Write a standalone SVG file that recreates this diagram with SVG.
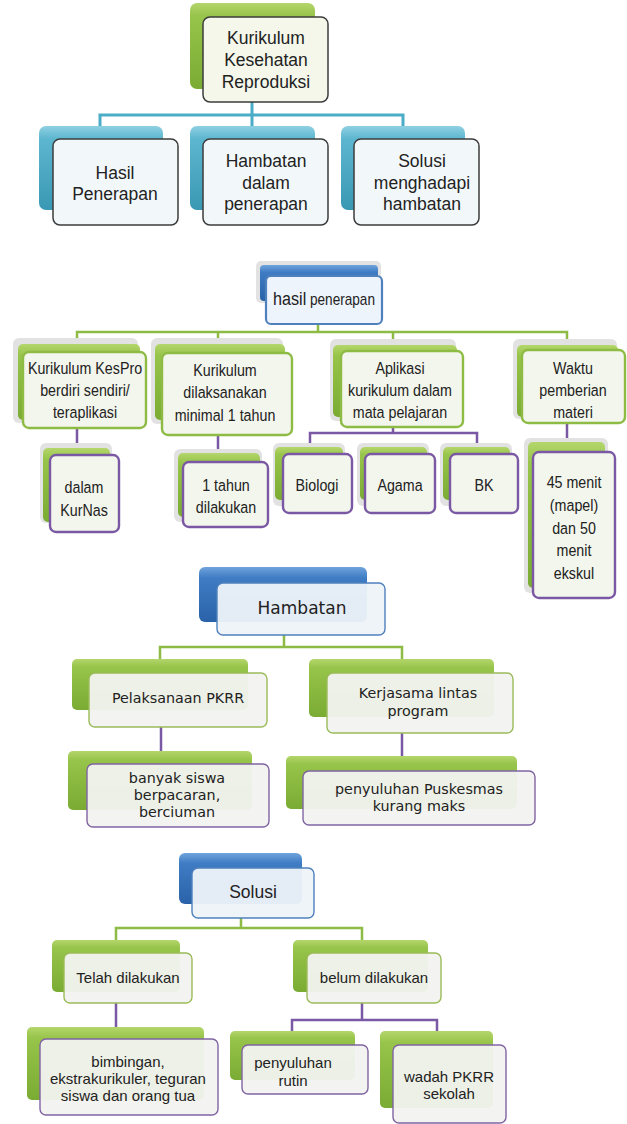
<svg xmlns="http://www.w3.org/2000/svg" width="627" height="1124" viewBox="0 0 627 1124">
<defs>
<linearGradient id="gGreen" x1="0" y1="0" x2="0" y2="1"><stop offset="0" stop-color="#b4d66c"/><stop offset="0.15" stop-color="#97c44a"/><stop offset="1" stop-color="#7aab33"/></linearGradient>
<linearGradient id="gTeal" x1="0" y1="0" x2="0" y2="1"><stop offset="0" stop-color="#8fd0e2"/><stop offset="0.15" stop-color="#5db6cf"/><stop offset="1" stop-color="#3a98b4"/></linearGradient>
<linearGradient id="gBlue" x1="0" y1="0" x2="0" y2="1"><stop offset="0" stop-color="#6fa3dc"/><stop offset="0.2" stop-color="#3f7cc4"/><stop offset="1" stop-color="#2a62a8"/></linearGradient>
<style>
.bg{fill:url(#gGreen)}
.bt{fill:url(#gTeal)}
.bb{fill:url(#gBlue)}
.sh{fill:#e2e2e2}
.f1{fill:#f2f8fa;stroke:#3c3c3c;stroke-width:1.5}
.f1g{fill:#f4f7ea;stroke:#3c3c3c;stroke-width:1.5}
.fg{fill:#f3f6ec;stroke:#8dbb44;stroke-width:2.4}
.fp{fill:#f3f6ec;stroke:#7a58a3;stroke-width:2.4}
.fb{fill:#eef4fb;stroke:#4f81bd;stroke-width:2.2}
.fg2{fill:#f2f3f0;fill-opacity:0.95;stroke:#9bbb59;stroke-width:1.4}
.fp2{fill:#f2f3f0;fill-opacity:0.95;stroke:#8064a2;stroke-width:1.4}
.fb2{fill:#eef3f9;fill-opacity:0.95;stroke:#4f81bd;stroke-width:1.4}
.ct{fill:none;stroke:#4bacc6;stroke-width:3}
.cg{fill:none;stroke:#8dbb44;stroke-width:2.5}
.cp{fill:none;stroke:#7a58a3;stroke-width:2.5}
text{fill:#222;text-anchor:middle}
.t1{font-family:"Liberation Sans",Arial,sans-serif;font-size:17.5px}
.t2{font-family:"Liberation Sans",Arial,sans-serif;font-size:17px}
.t3{font-family:"DejaVu Sans",Verdana,sans-serif;font-size:14.3px}
.t3b{font-family:"DejaVu Sans",Verdana,sans-serif;font-size:17px}
.t4{font-family:"Liberation Sans",Arial,sans-serif;font-size:15px}
</style>
</defs>

<g id="connectors">
<path class="ct" d="M252 102V115M100 126V115H403V126M252 115V126"/>
<path class="cg" d="M318 324V332M77 340V332H567V340M218 332V340M393 332V340"/>
<path class="cp" d="M77 428V448M218 435V453M393 427V433M310 445V433H477V445M567 423V442"/>
<path class="cg" d="M284 635V647M160 659V647H402V659"/>
<path class="cp" d="M161 727V752M402 733V756"/>
<path class="cg" d="M241 918V928M116 940V928H362V940"/>
<path class="cp" d="M116 1003V1027M362 1003V1020M292 1031V1020H437V1031"/>
</g>

<g id="root">
<rect class="bg" x="190" y="3" width="125" height="86" rx="7"/>
<rect class="f1g" x="203" y="17" width="125" height="85" rx="7"/>
<text class="t1"><tspan x="266" y="44">Kurikulum</tspan><tspan x="266" y="66">Kesehatan</tspan><tspan x="266" y="88">Reproduksi</tspan></text>
</g>
<g id="n-hasil">
<rect class="bt" x="39" y="126" width="124" height="84" rx="7"/>
<rect class="f1" x="53" y="139" width="125" height="86" rx="7"/>
<text class="t1"><tspan x="115" y="179">Hasil</tspan><tspan x="115" y="200">Penerapan</tspan></text>
</g>
<g id="n-hambatan">
<rect class="bt" x="190" y="126" width="125" height="84" rx="7"/>
<rect class="f1" x="203" y="139" width="125" height="86" rx="7"/>
<text class="t1"><tspan x="266" y="167">Hambatan</tspan><tspan x="266" y="189">dalam</tspan><tspan x="266" y="210">penerapan</tspan></text>
</g>
<g id="n-solusi">
<rect class="bt" x="341" y="126" width="124" height="84" rx="7"/>
<rect class="f1" x="354" y="139" width="125" height="86" rx="7"/>
<text class="t1"><tspan x="422" y="167">Solusi</tspan><tspan x="422" y="189">menghadapi</tspan><tspan x="422" y="210">hambatan</tspan></text>
</g>

<g id="s2-root">
<rect class="sh" x="256" y="261" width="125" height="42" rx="5"/>
<rect class="bb" x="260" y="265" width="118" height="36" rx="4"/>
<rect class="fb" x="266" y="276" width="116" height="48" rx="5"/>
<text transform="matrix(0.85 0 0 1 324 0)" x="0" y="305" style="font-family:'Liberation Sans',Arial,sans-serif"><tspan font-size="19">hasil</tspan><tspan font-size="16"> penerapan</tspan></text>
</g>
<g id="s2-a">
<rect class="sh" x="13" y="338" width="125" height="85" rx="6"/>
<rect class="bg" x="18" y="344" width="122" height="76" rx="5"/>
<rect class="fg" x="23" y="352" width="123" height="76" rx="6"/>
<text class="t2" transform="matrix(0.84 0 0 1 85 0)"><tspan x="0" y="374">Kurikulum KesPro</tspan><tspan x="0" y="396">berdiri sendiri/</tspan><tspan x="0" y="418">teraplikasi</tspan></text>
</g>
<g id="s2-b">
<rect class="sh" x="151" y="338" width="132" height="86" rx="6"/>
<rect class="bg" x="155" y="344" width="130" height="76" rx="5"/>
<rect class="fg" x="162" y="353" width="130" height="82" rx="6"/>
<text class="t2" transform="matrix(0.84 0 0 1 225 0)"><tspan x="0" y="376">Kurikulum</tspan><tspan x="0" y="398">dilaksanakan</tspan><tspan x="0" y="421">minimal 1 tahun</tspan></text>
</g>
<g id="s2-c">
<rect class="sh" x="330" y="339" width="126" height="82" rx="6"/>
<rect class="bg" x="333" y="345" width="124" height="72" rx="5"/>
<rect class="fg" x="341" y="351" width="122" height="76" rx="6"/>
<text class="t2" transform="matrix(0.84 0 0 1 400 0)"><tspan x="0" y="374">Aplikasi</tspan><tspan x="0" y="396">kurikulum dalam</tspan><tspan x="0" y="418">mata pelajaran</tspan></text>
</g>
<g id="s2-d">
<rect class="sh" x="513" y="339" width="104" height="80" rx="6"/>
<rect class="bg" x="517" y="345" width="101" height="72" rx="5"/>
<rect class="fg" x="522" y="350" width="103" height="73" rx="6"/>
<text class="t2" transform="matrix(0.84 0 0 1 573 0)"><tspan x="0" y="374">Waktu</tspan><tspan x="0" y="396">pemberian</tspan><tspan x="0" y="418">materi</tspan></text>
</g>
<g id="s2-a1">
<rect class="sh" x="40" y="443" width="72" height="80" rx="6"/>
<rect class="bg" x="43" y="448" width="67" height="74" rx="5"/>
<rect class="fp" x="50" y="455" width="69" height="77" rx="6"/>
<text class="t2" transform="matrix(0.84 0 0 1 84 0)"><tspan x="0" y="493">dalam</tspan><tspan x="0" y="516">KurNas</tspan></text>
</g>
<g id="s2-b1">
<rect class="sh" x="174" y="449" width="88" height="73" rx="6"/>
<rect class="bg" x="178" y="453" width="82" height="64" rx="5"/>
<rect class="fp" x="183" y="462" width="85" height="65" rx="6"/>
<text class="t2" transform="matrix(0.84 0 0 1 226 0)"><tspan x="0" y="491">1 tahun</tspan><tspan x="0" y="513">dilakukan</tspan></text>
</g>
<g id="s2-c1">
<rect class="sh" x="273" y="443" width="72" height="63" rx="6"/>
<rect class="bg" x="275" y="447" width="68" height="53" rx="5"/>
<rect class="fp" x="283" y="454" width="69" height="59" rx="6"/>
<text class="t2" transform="matrix(0.84 0 0 1 317 0)" x="0" y="491">Biologi</text>
</g>
<g id="s2-c2">
<rect class="sh" x="357" y="443" width="72" height="63" rx="6"/>
<rect class="bg" x="360" y="447" width="67" height="53" rx="5"/>
<rect class="fp" x="365" y="454" width="70" height="59" rx="6"/>
<text class="t2" transform="matrix(0.84 0 0 1 400 0)" x="0" y="491">Agama</text>
</g>
<g id="s2-c3">
<rect class="sh" x="440" y="443" width="72" height="63" rx="6"/>
<rect class="bg" x="443" y="447" width="67" height="53" rx="5"/>
<rect class="fp" x="450" y="454" width="68" height="59" rx="6"/>
<text class="t2" transform="matrix(0.84 0 0 1 484 0)" x="0" y="491">BK</text>
</g>
<g id="s2-d1">
<rect class="sh" x="524" y="438" width="84" height="155" rx="6"/>
<rect class="bg" x="528" y="442" width="77" height="146" rx="5"/>
<rect class="fp" x="533" y="452" width="82" height="146" rx="6"/>
<text class="t2" transform="matrix(0.84 0 0 1 574 0)"><tspan x="0" y="488">45 menit</tspan><tspan x="0" y="511">(mapel)</tspan><tspan x="0" y="534">dan 50</tspan><tspan x="0" y="556">menit</tspan><tspan x="0" y="579">ekskul</tspan></text>
</g>

<g id="s3-root">
<rect class="bb" x="199" y="567" width="168" height="55" rx="6"/>
<rect class="fb2" x="217" y="583" width="168" height="52" rx="6"/>
<text class="t3b" x="302" y="614">Hambatan</text>
</g>
<g id="s3-a">
<rect class="bg" x="72" y="659" width="176" height="51" rx="5"/>
<rect class="fg2" x="89" y="673" width="178" height="54" rx="6"/>
<text class="t3" x="178" y="703">Pelaksanaan PKRR</text>
</g>
<g id="s3-b">
<rect class="bg" x="309" y="659" width="185" height="58" rx="5"/>
<rect class="fg2" x="327" y="673" width="186" height="60" rx="6"/>
<text class="t3"><tspan x="418" y="698">Kerjasama lintas</tspan><tspan x="418" y="716">program</tspan></text>
</g>
<g id="s3-a1">
<rect class="bg" x="68" y="751" width="184" height="59" rx="5"/>
<rect class="fp2" x="87" y="764" width="182" height="63" rx="6"/>
<text class="t3"><tspan x="177" y="783">banyak siswa</tspan><tspan x="177" y="800">berpacaran,</tspan><tspan x="177" y="817">berciuman</tspan></text>
</g>
<g id="s3-b1">
<rect class="bg" x="286" y="756" width="231" height="53" rx="5"/>
<rect class="fp2" x="303" y="771" width="232" height="54" rx="6"/>
<text class="t3"><tspan x="419" y="794">penyuluhan Puskesmas</tspan><tspan x="419" y="811">kurang maks</tspan></text>
</g>

<g id="s4-root">
<rect class="bb" x="179" y="853" width="123" height="51" rx="6"/>
<rect class="fb2" x="192" y="868" width="122" height="50" rx="6"/>
<text class="t1" x="253" y="898">Solusi</text>
</g>
<g id="s4-a">
<rect class="bg" x="52" y="940" width="128" height="52" rx="5"/>
<rect class="fg2" x="64" y="953" width="128" height="50" rx="6"/>
<text class="t4" x="128" y="983">Telah dilakukan</text>
</g>
<g id="s4-b">
<rect class="bg" x="293" y="940" width="135" height="52" rx="5"/>
<rect class="fg2" x="307" y="953" width="134" height="50" rx="6"/>
<text class="t4" x="374" y="983">belum dilakukan</text>
</g>
<g id="s4-a1">
<rect class="bg" x="27" y="1027" width="177" height="73" rx="5"/>
<rect class="fp2" x="40" y="1039" width="178" height="76" rx="6"/>
<text class="t4"><tspan x="128" y="1067">bimbingan,</tspan><tspan x="128" y="1084">ekstrakurikuler, teguran</tspan><tspan x="128" y="1101">siswa dan orang tua</tspan></text>
</g>
<g id="s4-b1">
<rect class="bg" x="230" y="1031" width="125" height="49" rx="5"/>
<rect class="fp2" x="242" y="1045" width="126" height="49" rx="6"/>
<text class="t4"><tspan x="293" y="1068">penyuluhan</tspan><tspan x="293" y="1086">rutin</tspan></text>
</g>
<g id="s4-b2">
<rect class="bg" x="380" y="1031" width="113" height="77" rx="5"/>
<rect class="fp2" x="393" y="1045" width="113" height="78" rx="6"/>
<text class="t4"><tspan x="449" y="1082">wadah PKRR</tspan><tspan x="449" y="1099">sekolah</tspan></text>
</g>
</svg>
